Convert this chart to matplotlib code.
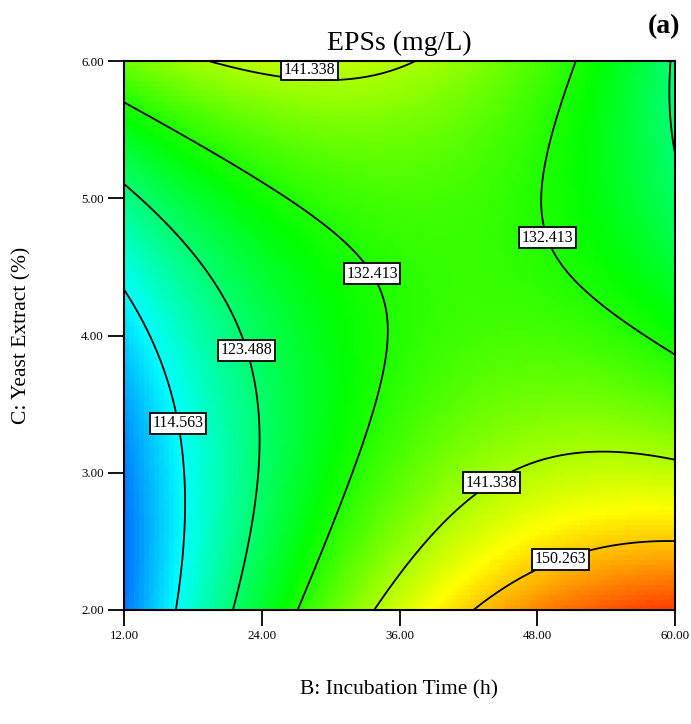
import numpy as np
import matplotlib
matplotlib.use("Agg")
import matplotlib.pyplot as plt
from matplotlib.colors import LinearSegmentedColormap

plt.rcParams['font.family'] = ['Liberation Serif', 'DejaVu Serif']

# quadratic response model for EPSs, coded factors x=(B-36)/24, y=(C-4)/2
b0 = 132.85
b_time = 9.75
b_yeast = -1.05
b_time_yeast = -17.05
b_time2 = -11.5
b_yeast2 = 10.0

time_range = [12.0, 60.0]
yeast_range = [2.0, 6.0]
levels = [114.563, 123.488, 132.413, 141.338, 150.263]
# (B, C) spots where the contour values are written
label_spots = [(28.2, 5.93), (34.0, 4.47), (48.8, 4.71), (22.6, 3.89),
               (16.6, 3.36), (43.7, 2.97), (49.8, 2.42)]
x_ticks = [12, 24, 36, 48, 60]
y_ticks = [2, 3, 4, 5, 6]


def eps(B, C):
    x = (B - 36.0) / 24.0
    y = (C - 4.0) / 2.0
    return (b0 + b_time * x + b_yeast * y + b_time_yeast * x * y
            + b_time2 * x ** 2 + b_yeast2 * y ** 2)


cmap = LinearSegmentedColormap.from_list(
    "de", ['#0000FF', '#00FFFF', '#00FF00', '#FFFF00', '#FF0000'])

fig = plt.figure(figsize=(6.91, 7.24), dpi=100)
ax = fig.add_axes([124 / 691, 1 - 610 / 724, 551 / 691, 549 / 724])

# coarse colour field
ncell = 110
be = np.linspace(*time_range, ncell + 1)
ce = np.linspace(*yeast_range, ncell + 1)
bc = 0.5 * (be[1:] + be[:-1])
cc = 0.5 * (ce[1:] + ce[:-1])
BC, CC = np.meshgrid(bc, cc)
ax.pcolormesh(be, ce, eps(BC, CC), cmap=cmap, vmin=98, vmax=163,
              shading='flat', rasterized=True)

# contour lines
bf = np.linspace(*time_range, 400)
cf = np.linspace(*yeast_range, 400)
BF, CF = np.meshgrid(bf, cf)
cs = ax.contour(BF, CF, eps(BF, CF), levels=levels, colors='black',
                linewidths=1.3)
txts = ax.clabel(cs, fmt='%.3f', fontsize=11.5, inline=False,
                 manual=label_spots)
for t in txts:
    t.set_rotation(0)
    t.set_zorder(5)
    t.set_bbox(dict(boxstyle='square,pad=0.16', fc='white', ec='black',
                    lw=1.3))
    # the label at the top edge sits just above its curve
    bx, cy = t.get_position()
    if cy > 5.7:
        t.set_position((bx, 5.935))

ax.set_xlim(*time_range)
ax.set_ylim(*yeast_range)
ax.set_xticks(x_ticks)
ax.set_yticks(y_ticks)
ax.set_xticklabels([f"{v:.2f}" for v in x_ticks])
ax.set_yticklabels([f"{v:.2f}" for v in y_ticks])
ax.tick_params(direction='out', length=11.5, width=1.3, labelsize=9.3, pad=3)
for s in ax.spines.values():
    s.set_linewidth(1.5)
    s.set_zorder(6)

fig.text(399.5 / 691, 1 - 43 / 724, "EPSs (mg/L)", ha='center', va='center',
         fontsize=20)
fig.text(664 / 691, 1 - 27 / 724, "(a)", ha='center', va='center',
         fontsize=20, fontweight='bold')
fig.text(22 / 691, 1 - 335 / 724, "C: Yeast Extract (%)", ha='center',
         va='center', rotation=90, fontsize=15.5)
fig.text(399.5 / 691, 1 - 690 / 724, "B: Incubation Time (h)", ha='center',
         va='center', fontsize=15.5)

fig.savefig("out.png", dpi=100)
